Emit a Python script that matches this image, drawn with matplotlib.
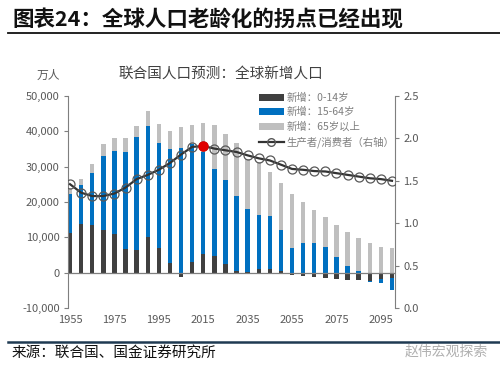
import matplotlib
matplotlib.use('Agg')

import matplotlib.pyplot as plt
import numpy as np
from matplotlib.lines import Line2D
from matplotlib.patches import Patch

plt.rcParams['font.family'] = ['Noto Sans CJK SC', 'DejaVu Sans']
plt.rcParams['axes.unicode_minus'] = False

# UN projection, new population per 5-year period (10k persons)
years = list(range(1955, 2101, 5))
new_0_14 = [11100, 13750, 13500, 12050, 10900, 6800, 6400, 10000, 6900, 2650,
            -1300, 3100, 5200, 4800, 2450, 500, 300, 900, 1000, 600,
            -650, -900, -1300, -1600, -1800, -2000, -2200, -2300, -1700, -1600]
new_15_64 = [11100, 11050, 14850, 21000, 23600, 27400, 32000, 31450, 29900, 32250,
             35400, 33250, 29000, 24500, 23750, 21150, 17600, 15400, 15000, 11550,
             7000, 8300, 8500, 7400, 4400, 2000, 550, -200, -1300, -3200]
new_65_plus = [1800, 1600, 2350, 3300, 3750, 4050, 3100, 4350, 5200, 5200,
               5850, 5550, 8300, 12400, 13000, 15050, 14400, 15050, 12500, 13250,
               15400, 11600, 9300, 8400, 9100, 9400, 9150, 8300, 7350, 6900]
# producers / consumers ratio (right axis)
ratio = [1.46, 1.36, 1.32, 1.32, 1.35, 1.42, 1.52, 1.57, 1.63, 1.71,
         1.81, 1.90, 1.91, 1.88, 1.86, 1.84, 1.80, 1.765, 1.74, 1.69,
         1.64, 1.63, 1.615, 1.61, 1.59, 1.57, 1.55, 1.53, 1.52, 1.50]
peak_year = 2015

series = [
    (new_0_14, '#404040', '新增：0-14岁'),
    (new_15_64, '#0070C0', '新增：15-64岁'),
    (new_65_plus, '#BFBFBF', '新增：65岁以上'),
]

fig = plt.figure(figsize=(5.0, 3.69), dpi=100)
ax = fig.add_axes([0.136, 0.1653, 0.654, 0.5745])
ax2 = ax.twinx()

# stacked bars, negatives stacked downward from zero
x = np.array(years, dtype=float)
pos_bottom = np.zeros(len(years))
neg_bottom = np.zeros(len(years))
for vals, color, label in series:
    v = np.array(vals, dtype=float)
    bottom = np.where(v >= 0, pos_bottom, neg_bottom)
    ax.bar(x, v, bottom=bottom, width=2.0, color=color, linewidth=0, zorder=2)
    pos_bottom = pos_bottom + np.where(v >= 0, v, 0)
    neg_bottom = neg_bottom + np.where(v < 0, v, 0)

ax.axhline(0, color='#7f7f7f', linewidth=0.9, zorder=3)

ax.set_xlim(1954.1, 2101.35)
ax.set_ylim(-10000, 50000)
ax.set_yticks(range(-10000, 50001, 10000))
ax.set_yticklabels([f'{t:,}' for t in range(-10000, 50001, 10000)])
ax.set_xticks(range(1955, 2100, 20))
ax.tick_params(axis='x', length=0, pad=5, labelsize=8, labelcolor='#595959')
ax.tick_params(axis='y', length=3, width=0.8, color='#7f7f7f', pad=3,
               labelsize=8, labelcolor='#595959')

# producer/consumer ratio line
ax2.plot(x, ratio, color='#333333', linewidth=1.6, marker='o', markersize=6.5,
         markerfacecolor='none', markeredgecolor='#595959', markeredgewidth=0.9,
         zorder=4)
pi = years.index(peak_year)
ax2.plot([x[pi]], [ratio[pi]], marker='o', markersize=6.5, color='#E00000',
         markeredgecolor='#E00000', linestyle='none', zorder=5)
ax2.set_ylim(0, 2.5)
ax2.set_yticks(np.arange(0, 2.51, 0.5))
ax2.set_yticklabels([f'{t:.1f}' for t in np.arange(0, 2.51, 0.5)])
ax2.tick_params(axis='y', length=3, width=0.8, color='#7f7f7f', pad=3,
                labelsize=8, labelcolor='#595959')

for a in (ax, ax2):
    for s in ('top', 'bottom'):
        a.spines[s].set_visible(False)
ax.spines['right'].set_visible(False)
ax2.spines['left'].set_visible(False)
ax.spines['left'].set_color('#7f7f7f')
ax2.spines['right'].set_color('#7f7f7f')
ax.spines['left'].set_linewidth(0.8)
ax2.spines['right'].set_linewidth(0.8)

handles = [Patch(facecolor=c, edgecolor='none') for _, c, _ in series]
handles.append(Line2D([], [], color='#333333', linewidth=1.6, marker='o',
                      markersize=5.5, markerfacecolor='none',
                      markeredgecolor='#595959'))
labels = [lab for _, _, lab in series] + ['生产者/消费者（右轴）']
ax2.legend(handles, labels, loc='upper left', bbox_to_anchor=(0.57, 1.035),
           frameon=False, fontsize=7.5, handlelength=2.4, handleheight=0.7,
           handletextpad=0.3, labelspacing=0.42, borderaxespad=0,
           labelcolor='#7f7f7f')

# titles and notes
fig.text(0.024, 0.945, '图表24：全球人口老龄化的拐点已经出现', fontsize=15.5,
         fontweight='bold', color='#111111', va='center', ha='left')
fig.add_artist(Line2D([0.016, 1.0], [0.91, 0.91], color='#111111',
                      linewidth=1.3))
fig.text(0.442, 0.80, '联合国人口预测：全球新增人口', fontsize=10.5,
         color='#404040', ha='center', va='center')
fig.text(0.097, 0.797, '万人', fontsize=8.5, color='#595959',
         ha='center', va='center')
fig.add_artist(Line2D([0.016, 1.0], [0.074, 0.074], color='#1F3A52',
                      linewidth=1.8))
fig.text(0.024, 0.044, '来源：联合国、国金证券研究所', fontsize=10.5,
         color='#111111', ha='left', va='center')
fig.text(0.975, 0.046, '赵伟宏观探索', fontsize=10, color='#b0b0b0',
         ha='right', va='center')

fig.savefig('out.png', dpi=100)
